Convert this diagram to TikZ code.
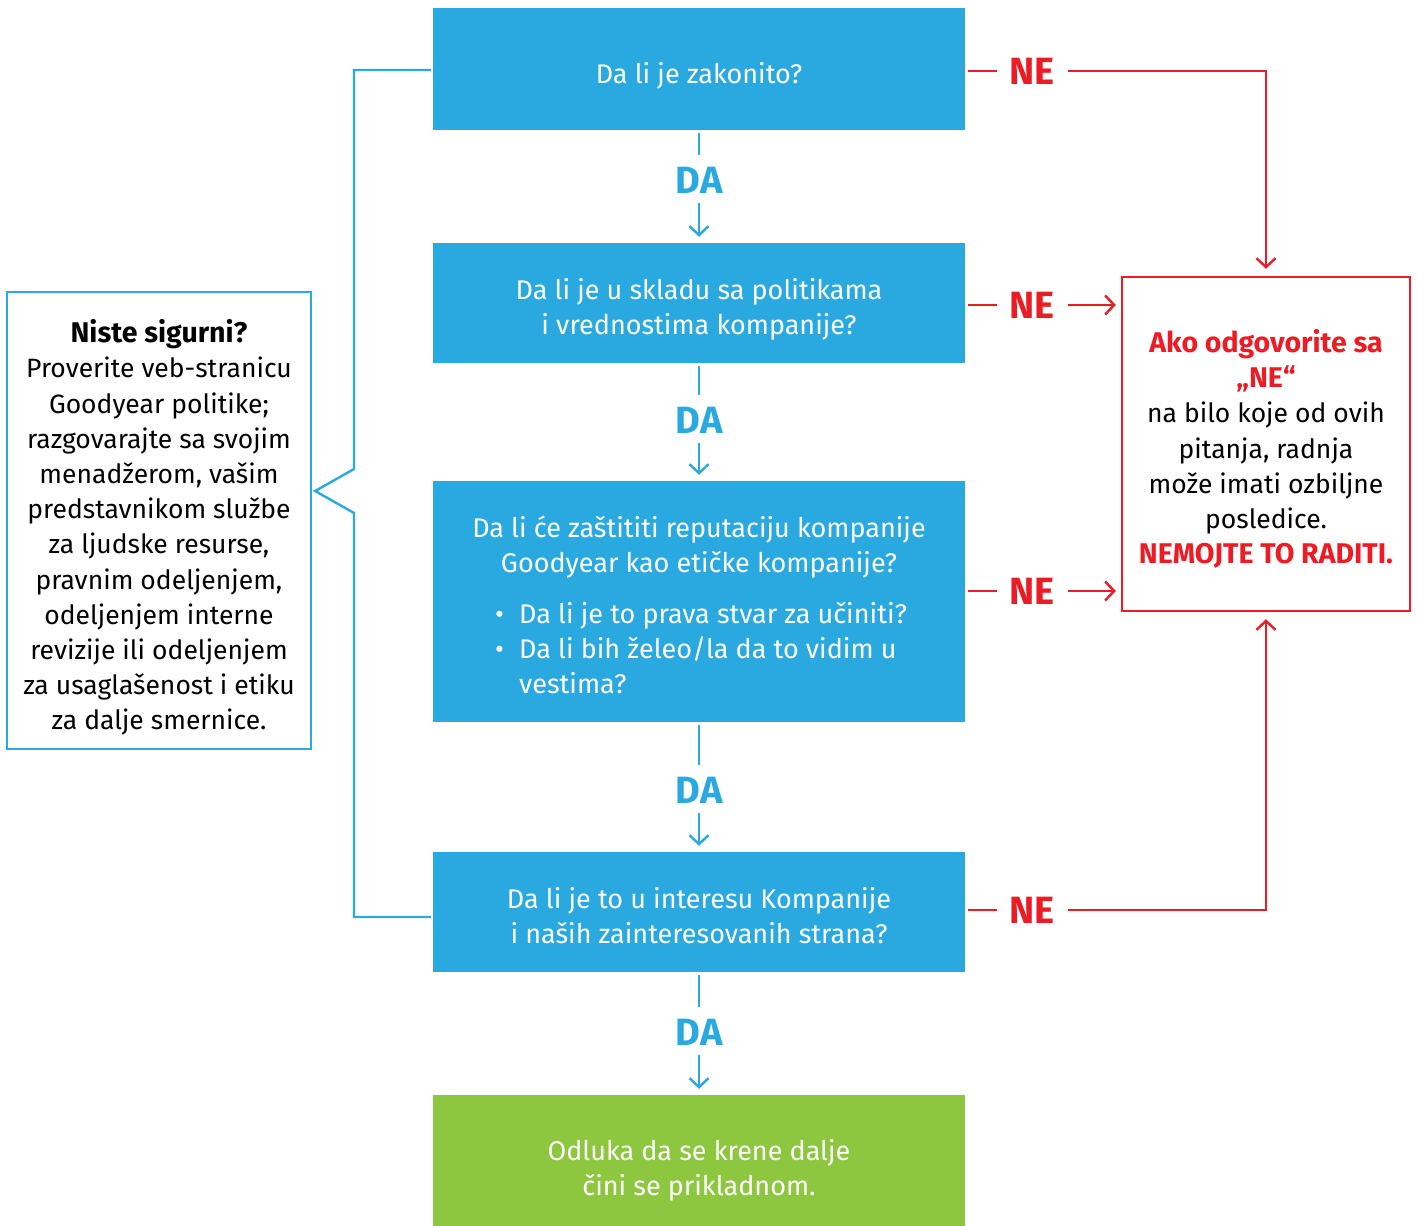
\documentclass[tikz,border=0pt]{standalone}
\usepackage{fontspec}
\setmainfont{Fira Sans}
\usetikzlibrary{arrows.meta,calc}
\definecolor{gyblue}{HTML}{29A9E0}
\definecolor{gyred}{HTML}{ED1C24}
\definecolor{gygreen}{HTML}{8DC63F}
\newcommand{\bigbf}[1]{{\fontsize{28.5}{35}\selectfont\bfseries #1}}
\tikzset{
  qbox/.style={fill=gyblue, draw=none, minimum width=532pt, inner sep=0pt},
  okbox/.style={qbox, fill=gygreen},
  qtext/.style={text=white, align=center, font=\fontsize{27}{35}\selectfont, inner sep=0pt},
  dalabel/.style={text=gyblue, font=\fontsize{38}{38}\selectfont\bfseries, inner sep=0pt,
    text height=26pt, text depth=0pt},
  nelabel/.style={text=gyred, font=\fontsize{38}{38}\selectfont\bfseries, inner sep=0pt,
    text height=26pt, text depth=0pt, minimum width=70pt},
  bluecon/.style={draw=gyblue, line width=2.4pt},
  redcon/.style={draw=gyred, line width=2.4pt},
  tip/.style={-{Straight Barb[length=9pt,width=19pt,line width=2.4pt]}},
  bodytext/.style={font=\fontsize{26.5}{35.2}\selectfont, align=center, inner sep=0pt},
}
\begin{document}
\begin{tikzpicture}[x=1pt,y=-1pt]
\useasboundingbox (0,0) rectangle (1417,1226);
% question boxes
\node[qbox, minimum height=122pt] (b1) at (699,69) {};
\node[qbox, minimum height=120pt] (b2) at (699,303) {};
\node[qbox, minimum height=241pt] (b3) at (699,601.5) {};
\node[qbox, minimum height=120pt] (b4) at (699,912) {};
\node[okbox, minimum height=131pt] (b5) at (699,1160.5) {};
\node[qtext] (b1t) at (699,76) {Da li je zakonito?};
\node[qtext] (b2t) at (699,309) {Da li je u skladu sa politikama\\i vrednostima kompanije?};
\node[qtext] (b3head) at (699,547) {Da li će zaštititi reputaciju kompanije\\Goodyear kao etičke kompanije?};
\node[qtext, align=left, anchor=north west] (b3list) at (493,602)
  {\makebox[26pt][l]{\hspace{2pt}•}Da li je to prava stvar za učiniti?\\
   \makebox[26pt][l]{\hspace{2pt}•}Da li bih želeo/la da to vidim u\\
   \hspace*{26pt}vestima?};
\node[qtext] (b4t) at (699,916) {Da li je to u interesu Kompanije\\i naših zainteresovanih strana?};
\node[qtext] (b5t) at (699,1170.5) {Odluka da se krene dalje\\čini se prikladnom.};
% DA labels
\node[dalabel] (da1) at (699,180) {DA};
\node[dalabel] (da2) at (699,420) {DA};
\node[dalabel] (da3) at (699,790) {DA};
\node[dalabel] (da4) at (699,1032) {DA};
\foreach \a/\d/\b in {b1/da1/b2, b2/da2/b3, b3/da3/b4, b4/da4/b5}{
  \draw[bluecon] ([yshift=-3pt]\a.south) -- ([yshift=12pt]\d.north);
  \draw[bluecon, tip] ([yshift=-10pt]\d.south) -- ([yshift=6pt]\b.north);
}
% red box
\node[draw=gyred, line width=2.4pt, minimum width=288pt, minimum height=334pt, inner sep=0pt] (no) at (1266,444) {};
\node[bodytext, text=black] (notext) at (1266,449) {{\color{gyred}\bigbf{Ako odgovorite sa}}\\{\color{gyred}\bigbf{„NE“}}\\na bilo koje od ovih\\pitanja, radnja\\može imati ozbiljne\\posledice.\\{\color{gyred}\bigbf{NEMOJTE TO RADITI.}}};
% NE labels
\node[nelabel] (ne1) at (1032,71) {NE};
\node[nelabel] (ne2) at (1032,305) {NE};
\node[nelabel] (ne3) at (1032,591) {NE};
\node[nelabel] (ne4) at (1032,910) {NE};
\draw[redcon] ([xshift=3pt]b1.east |- ne1) -- (ne1.west);
\draw[redcon] ([xshift=3pt]b2.east |- ne2) -- (ne2.west);
\draw[redcon] ([xshift=3pt]b3.east |- ne3) -- (ne3.west);
\draw[redcon] ([xshift=3pt]b4.east |- ne4) -- (ne4.west);
\draw[redcon, tip] ([xshift=1pt]ne1.east) -| ([yshift=7pt]no.north);
\draw[redcon, tip] ([xshift=1pt]ne2.east) -- ([xshift=-5pt]no.west |- ne2);
\draw[redcon, tip] ([xshift=1pt]ne3.east) -- ([xshift=-5pt]no.west |- ne3);
\draw[redcon, tip] ([xshift=1pt]ne4.east) -| ([yshift=-7pt]no.south);
% left box
\node[draw=gyblue, line width=2.4pt, minimum width=304pt, minimum height=457pt, inner sep=0pt] (unsure) at (159,520.5) {};
\node[bodytext, text=black] (unsuretext) at (159,527.5) {\bigbf{Niste sigurni?}\\Proverite veb-stranicu\\Goodyear politike;\\razgovarajte sa svojim\\menadžerom, vašim\\predstavnikom službe\\za ljudske resurse,\\pravnim odeljenjem,\\odeljenjem interne\\revizije ili odeljenjem\\za usaglašenost i etiku\\za dalje smernice.};
% bracket
\coordinate (brtop) at (354,70);
\coordinate (brbot) at (354,917);
\draw[bluecon] ([xshift=-2pt,yshift=-1pt]b1.west) -- (brtop) -- (354,469) -- ([xshift=3pt]unsure.east |- 0,491) -- (354,513) -- (brbot) -- ([xshift=-2pt,yshift=-5pt]b4.west);
\end{tikzpicture}
\end{document}
